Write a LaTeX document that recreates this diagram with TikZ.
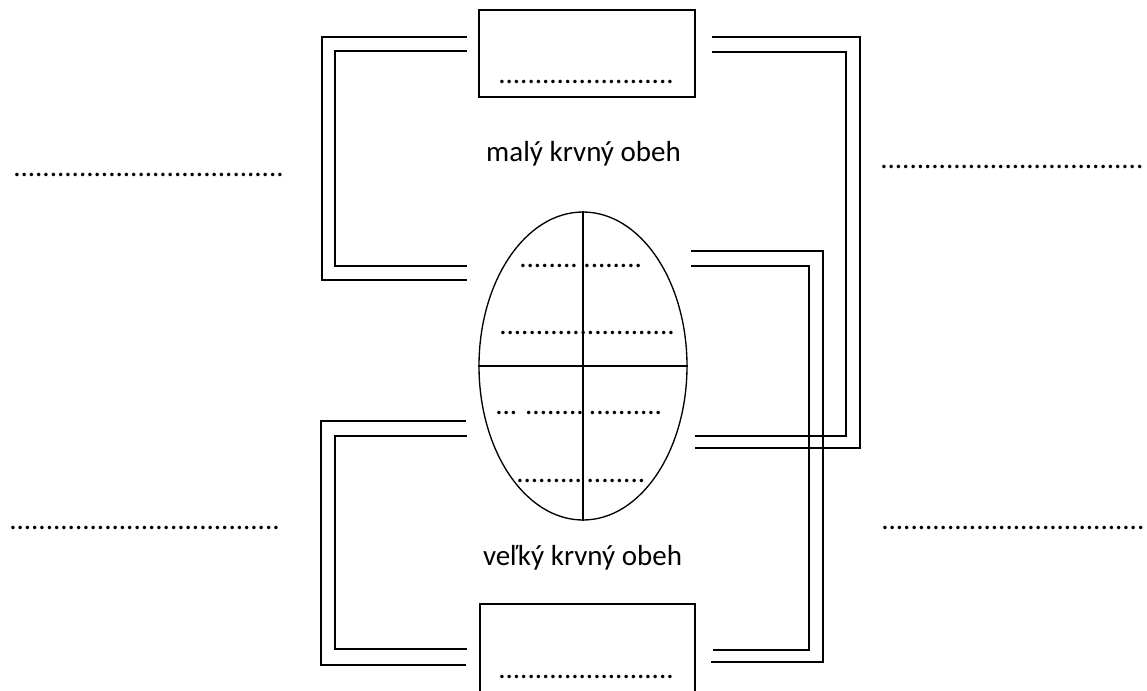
\documentclass[tikz,border=0pt]{standalone}
\usepackage{fontspec}
\setmainfont{Carlito}
\usetikzlibrary{shapes.geometric}

\newcommand{\dotsrow}[1]{\foreach \k in {1,...,#1}{.}}

\tikzset{
  pipe/.style={line width=1pt, line join=miter},
  frame/.style={draw, line width=1pt, rectangle, inner sep=0pt},
  gap/.style={inner sep=0pt, anchor=base west, font=\fontsize{21.75pt}{26pt}\selectfont},
  label/.style={inner sep=0pt, anchor=base, font=\fontsize{21.75pt}{26pt}\selectfont},
}

\begin{document}
\begin{tikzpicture}[x=0.75pt, y=-0.75pt]
\useasboundingbox (0,0) rectangle (1147,690);

% organ boxes (lungs above, body below)
\node[frame, minimum width=162pt, minimum height=65.25pt] (lungs) at (587,53.5) {};
\node[frame, minimum width=161.25pt, minimum height=72pt] (body) at (587.5,652) {};
\node[gap] (lungsgap) at (498,83.5) {\dotsrow{24}};
\node[gap] (bodygap) at (498,678.5) {\dotsrow{24}};

% heart with its four chambers
\node[draw, line width=1pt, ellipse, inner sep=0pt,
      minimum width=156pt, minimum height=231pt] (heart) at (583,366) {};
\draw[line width=1pt] (heart.north) -- (heart.south);
\draw[line width=1pt] (heart.west) -- (heart.east);
\node[gap] (ch1) at (519,267.5) {\dotsrow{8}\hspace{4.3pt}\dotsrow{8}};
\node[gap] (ch2) at (499,334.5) {\dotsrow{24}};
\node[gap] (ch3) at (495,414.5) {\dotsrow{3}\hspace{6pt}\dotsrow{8}\hspace{4pt}\dotsrow{10}};
\node[gap] (ch4) at (516,482.5) {\dotsrow{9}\hspace{3.5pt}\dotsrow{8}};

% circulation labels
\node[label] (small) at (583.5,161) {malý krvný obeh};
\node[label] (large) at (582.5,565) {veľký krvný obeh};

% blank answer lines
\node[gap] (tl) at (13,176.5) {\dotsrow{37}};
\node[gap] (tr) at (880,168) {\dotsrow{36}};
\node[gap] (bl) at (9,529.5) {\dotsrow{37}};
\node[gap] (br) at (881,529.5) {\dotsrow{36}};

% pulmonary circuit, left side
\coordinate (a1) at (467,37);  \coordinate (a2) at (322,37);
\coordinate (a3) at (322,280); \coordinate (a4) at (467,280);
\coordinate (b1) at (467,51);  \coordinate (b2) at (335,51);
\coordinate (b3) at (335,266); \coordinate (b4) at (467,266);
\draw[pipe] (a1) -- (a2) -- (a3) -- (a4);
\draw[pipe] (b1) -- (b2) -- (b3) -- (b4);

% pulmonary circuit, right side
\coordinate (c1) at (712,37);  \coordinate (c2) at (860,37);
\coordinate (c3) at (860,448); \coordinate (c4) at (695,448);
\coordinate (d1) at (712,52);  \coordinate (d2) at (846,52);
\coordinate (d3) at (846,436); \coordinate (d4) at (695,436);
\draw[pipe] (c1) -- (c2) -- (c3) -- (c4);
\draw[pipe] (d1) -- (d2) -- (d3) -- (d4);

% systemic circuit, right side
\coordinate (e1) at (691,251); \coordinate (e2) at (823,251);
\coordinate (e3) at (823,662); \coordinate (e4) at (711,662);
\coordinate (f1) at (691,266); \coordinate (f2) at (809,266);
\coordinate (f3) at (809,650); \coordinate (f4) at (713,650);
\draw[pipe] (e1) -- (e2) -- (e3) -- (e4);
\draw[pipe] (f1) -- (f2) -- (f3) -- (f4);

% systemic circuit, left side
\coordinate (g1) at (466,421); \coordinate (g2) at (321,421);
\coordinate (g3) at (321,665); \coordinate (g4) at (466,665);
\coordinate (h1) at (467,436); \coordinate (h2) at (335,436);
\coordinate (h3) at (335,649); \coordinate (h4) at (467,649);
\draw[pipe] (g1) -- (g2) -- (g3) -- (g4);
\draw[pipe] (h1) -- (h2) -- (h3) -- (h4);
\end{tikzpicture}
\end{document}
